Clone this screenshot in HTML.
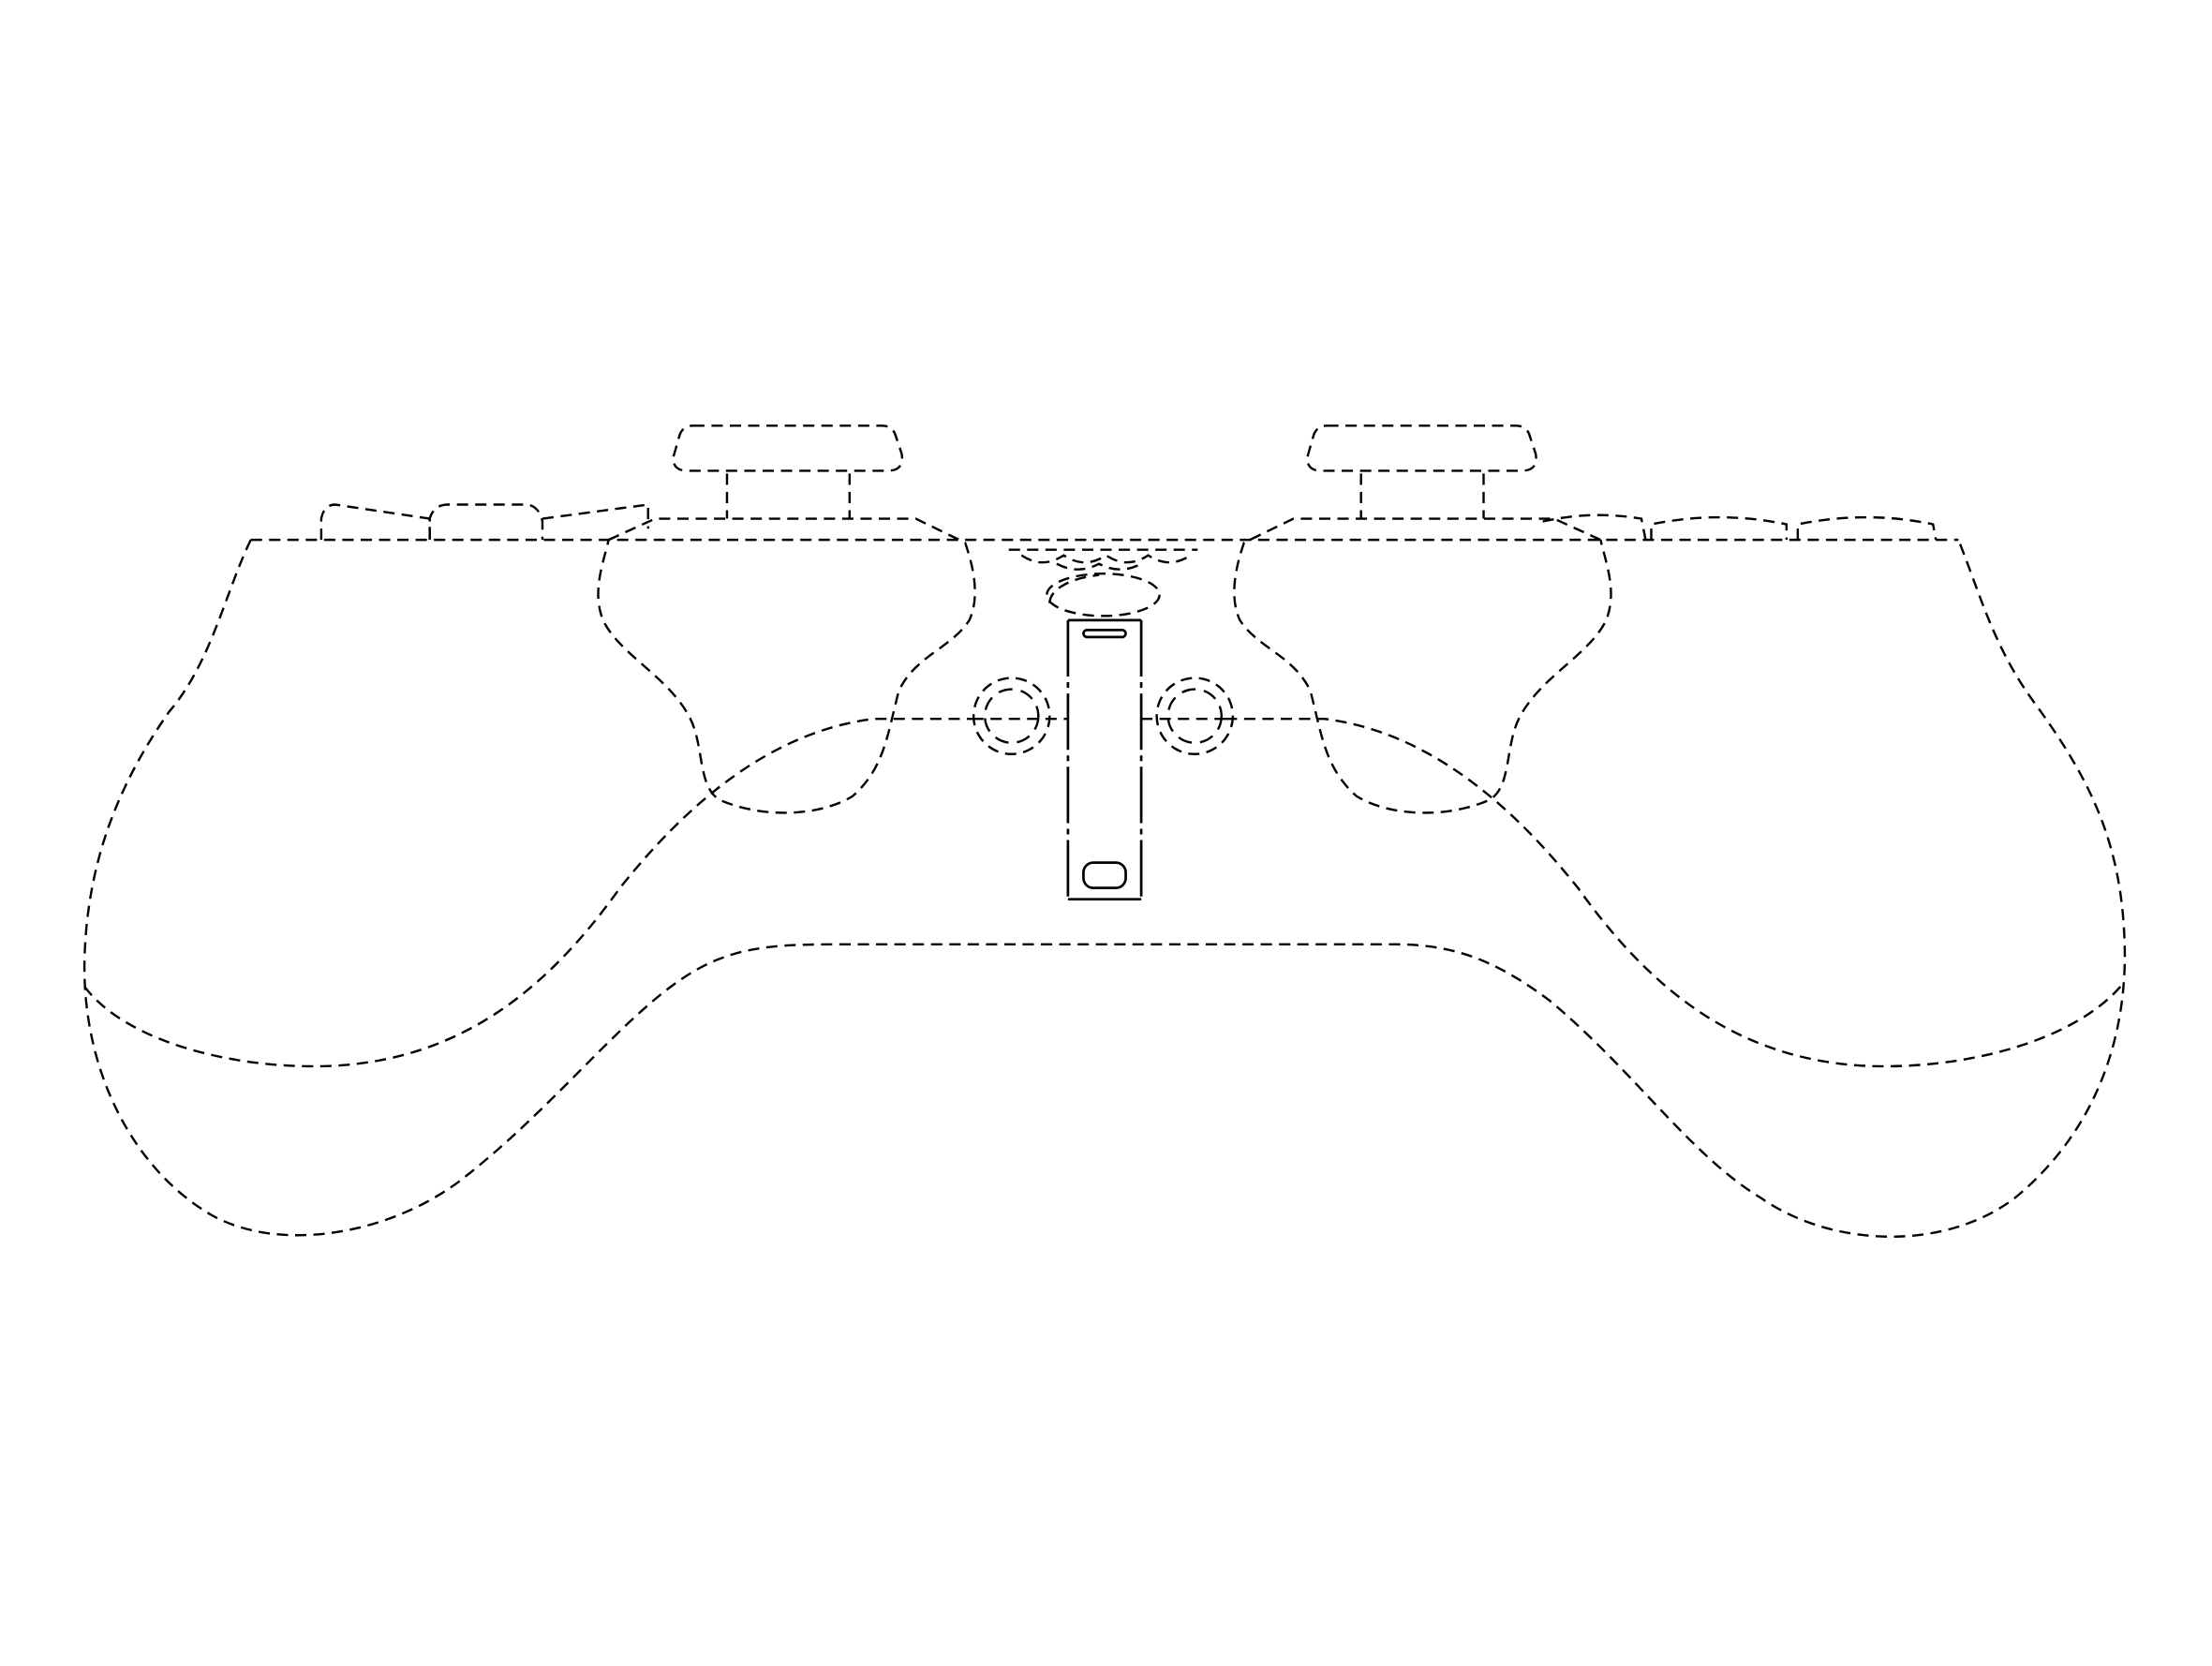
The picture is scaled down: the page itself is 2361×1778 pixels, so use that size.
<!DOCTYPE html>
<html><head><meta charset="utf-8"><style>html,body{margin:0;padding:0;background:#fff}svg{display:block}</style></head>
<body>
<svg width="2361" height="1778" viewBox="0 0 1570 1182" preserveAspectRatio="none" xmlns="http://www.w3.org/2000/svg">
<g fill="none" stroke="#000" stroke-width="1.6" stroke-dasharray="8,5">
<path d="M178,383 L1390,383"/>
<path d="M178,383 C160,420 150,470 120,505 C85,555 62,610 60,680 C58,760 95,830 150,862 C200,890 280,875 330,835 C400,780 450,710 500,685 C530,670 560,670 600,670 L990,670 C1030,670 1060,680 1100,710 C1160,760 1200,820 1250,850 C1300,885 1380,888 1430,850 C1485,805 1510,740 1508,670 C1506,600 1485,555 1445,500 C1415,460 1405,420 1390,383"/>
<path d="M60,700 C90,740 170,760 240,756 C330,750 390,700 440,630 C480,580 540,520 620,510 L690,510"/>
<path d="M870,510 L940,510 C1020,520 1080,580 1120,630 C1170,700 1230,750 1320,756 C1390,760 1470,740 1505,700"/>
<path d="M432,383 L465,368 L650,368 L685,385 C692,405 695,425 688,440 C675,460 650,465 638,490 C630,520 628,545 605,565 C580,580 540,580 512,568 C495,560 500,530 490,510 C475,480 440,465 428,440 C420,420 428,400 432,383"/>
<path d="M1136,383 L1103,368 L918,368 L883,385 C876,405 873,425 880,440 C893,460 918,465 930,490 C938,520 940,545 963,565 C988,580 1028,580 1056,568 C1073,560 1068,530 1078,510 C1093,480 1128,465 1140,440 C1148,420 1140,400 1136,383"/>
<path d="M492,302 L626,302 Q634,302 636,310 L640,322 Q642,334 630,334 L488,334 Q477,334 478,324 L482,310 Q484,302 492,302 Z"/>
<path d="M516,336 L516,368 M603,336 L603,368"/>
<path d="M942,302 L1076,302 Q1084,302 1086,310 L1090,322 Q1092,334 1080,334 L938,334 Q927,334 928,324 L932,310 Q934,302 942,302 Z"/>
<path d="M966,336 L966,368 M1053,336 L1053,368"/>
<path d="M228,383 L228,368 Q230,358 238,358 L305,368 L305,383"/>
<path d="M305,383 L305,368 Q308,358 318,358 L375,358 Q383,360 385,370 L385,383"/>
<path d="M385,368 L460,358 L460,375"/>
<path d="M1095,370 Q1130,362 1165,368 L1168,383"/>
<path d="M1172,383 L1172,372 Q1220,362 1268,372 L1268,383"/>
<path d="M1276,383 L1276,372 Q1325,362 1372,372 L1374,383"/>
<path d="M716,390 L850,390"/>
<path d="M725,394 Q740,404 755,394 Q770,404 785,394 Q800,404 815,394 Q830,404 845,394"/>
<path d="M750,400 Q765,408 780,400 Q795,408 810,400"/>
<ellipse cx="783" cy="422" rx="40" ry="15"/>
<path d="M745,428 C745,418 760,410 780,408"/>
<circle cx="718" cy="508" r="27"/>
<circle cx="718" cy="508" r="19" stroke-dasharray="10,6"/>
<circle cx="848" cy="508" r="27"/>
<circle cx="848" cy="508" r="19" stroke-dasharray="10,6"/>
<path d="M690,510 L758,510 M810,510 L876,510"/>
</g>
<g fill="none" stroke="#000" stroke-width="1.8">
<path d="M758,440 L810,440 M758,638 L810,638"/>
<path d="M758,440 L758,638 M810,440 L810,638" stroke-dasharray="40,4,4,4"/>
<rect x="769" y="447" width="30" height="5" rx="2.5"/>
<rect x="769" y="612" width="30" height="18" rx="7"/>
</g>
</svg>
</body></html>
